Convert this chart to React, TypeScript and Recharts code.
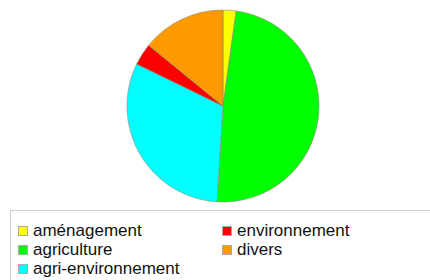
import { Cell, Pie, PieChart } from "recharts";

const categories = [
	"aménagement",
	"agriculture",
	"agri-environnement",
	"environnement",
	"divers",
];
const shares = [2.2, 48.8, 31.2, 3.7, 14.1];
const colors = ["#ffff00", "#00ff00", "#00ffff", "#ff0000", "#ff9900"];

const data = categories.map((name, i) => ({ name, value: shares[i] }));

export default function App() {
	return (
		<div
			style={{
				position: "fixed",
				left: 0,
				top: 0,
				width: 430,
				height: 280,
				background: "#fff",
				overflow: "hidden",
				fontFamily: "'Liberation Sans', Arial, sans-serif",
			}}
		>
			<PieChart
				width={430}
				height={210}
				margin={{ top: 0, right: 0, bottom: 0, left: 0 }}
			>
				<Pie
					data={data}
					dataKey="value"
					nameKey="name"
					cx={223}
					cy={106}
					outerRadius={96}
					startAngle={90}
					endAngle={-270}
					stroke="#8a8a70"
					strokeWidth={0.6}
					isAnimationActive={false}
				>
					{data.map((d, i) => (
						<Cell key={d.name} fill={colors[i]} />
					))}
				</Pie>
			</PieChart>
			<div
				style={{
					position: "absolute",
					left: 10,
					top: 210,
					width: 440,
					height: 80,
					border: "1px solid #d0d0d0",
					boxSizing: "border-box",
				}}
			>
				{data.map((d, i) => {
					const col = i < 3 ? 0 : 1;
					const row = i < 3 ? i : i - 3;
					return (
						<div
							key={d.name}
							style={{
								position: "absolute",
								left: col === 0 ? 7 : 211,
								top: 10 + row * 19,
								height: 19,
								display: "flex",
								alignItems: "center",
								fontSize: 17,
								color: "#111",
								whiteSpace: "nowrap",
							}}
						>
							<span
								style={{
									display: "inline-block",
									width: 10,
									height: 10,
									background: colors[i],
									border: "1px solid #aaa",
									boxSizing: "border-box",
									marginRight: 5,
								}}
							/>
							{d.name}
						</div>
					);
				})}
			</div>
		</div>
	);
}
